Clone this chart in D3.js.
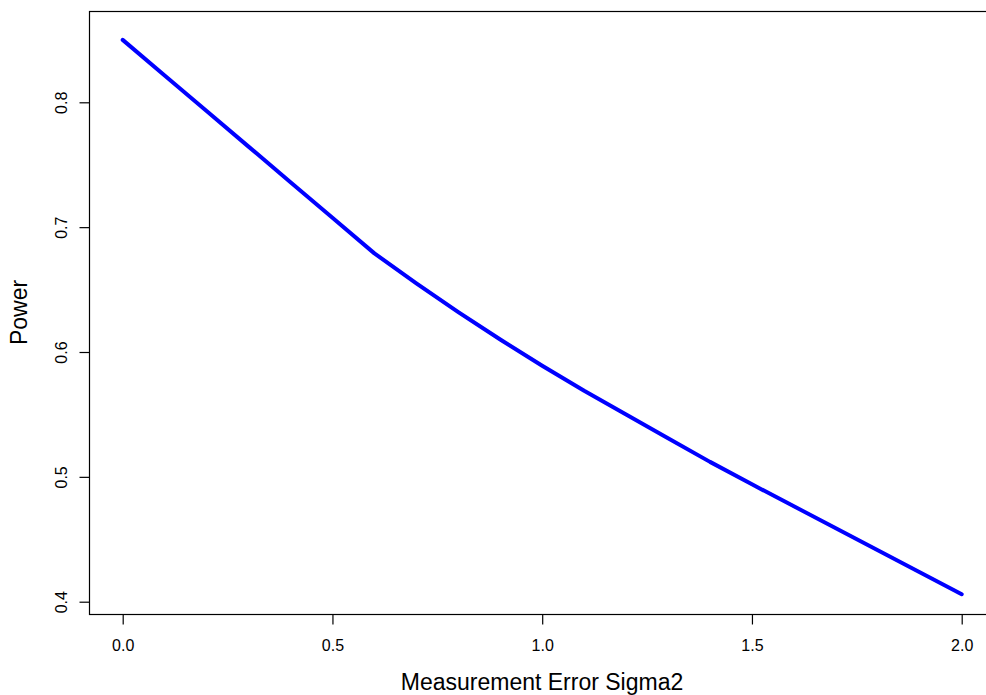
<!DOCTYPE html>
<html>
 <head>
    <style>
        body { margin: 0; background: #fff; }
        svg { display: block; }
        text { font-family: "Liberation Sans", Arial, Helvetica, sans-serif; fill: #000; }
    </style>
    <script src="https://d3js.org/d3.v7.min.js"></script>
 </head>
 <body>
    <div id="chart"></div>
    <script type="text/javascript">
        // measurement error levels and the power at each one
        const sigma2 = [0.0, 0.1, 0.2, 0.3, 0.4, 0.5, 0.6, 0.7, 0.8, 0.9, 1.0,
                        1.1, 1.2, 1.3, 1.4, 1.5, 1.6, 1.7, 1.8, 1.9, 2.0];
        const power = [0.850, 0.8215, 0.793, 0.7645, 0.736, 0.7075, 0.679, 0.655, 0.632, 0.610, 0.589,
                       0.569, 0.550, 0.531, 0.512, 0.494, 0.4764, 0.4588, 0.4412, 0.4236, 0.406];
        const xTicks = [0.0, 0.5, 1.0, 1.5, 2.0];
        const yTicks = [0.4, 0.5, 0.6, 0.7, 0.8];

        const W = 986, H = 695;
        // plot region (right edge sits past the window, as in the original)
        const box = {left: 89, top: 11, right: 995, bottom: 614};

        const x = d3.scaleLinear().domain([0, 2]).range([122.7, 961.7]);
        const y = d3.scaleLinear().domain([0.4, 0.8]).range([601.7, 102.3]);

        const svg = d3.select("#chart").append("svg")
            .attr("width", W)
            .attr("height", H);

        // box
        svg.append("rect")
            .attr("x", box.left + 0.5)
            .attr("y", box.top + 0.5)
            .attr("width", box.right - box.left)
            .attr("height", box.bottom - box.top)
            .attr("fill", "none")
            .attr("stroke", "#000")
            .attr("stroke-width", 1.2);

        // x axis
        const xAxis = d3.axisBottom(x)
            .tickValues(xTicks)
            .tickSize(10)
            .tickPadding(15)
            .tickFormat(d3.format(".1f"));
        const gx = svg.append("g")
            .attr("transform", "translate(0," + (box.bottom + 0.5) + ")")
            .call(xAxis);
        gx.select(".domain").remove();
        gx.selectAll("line").attr("stroke", "#000").attr("stroke-width", 1.2);
        gx.selectAll("text")
            .style("font-size", "16px")
            .style("font-family", "Liberation Sans, Arial, sans-serif");

        // y axis, labels turned like R's default
        const yAxis = d3.axisLeft(y)
            .tickValues(yTicks)
            .tickSize(10)
            .tickFormat(d3.format(".1f"));
        const gy = svg.append("g")
            .attr("transform", "translate(" + (box.left + 0.5) + ",0)")
            .call(yAxis);
        gy.select(".domain").remove();
        gy.selectAll("line").attr("stroke", "#000").attr("stroke-width", 1.2);
        gy.selectAll("text")
            .attr("x", null)
            .attr("dy", null)
            .attr("transform", "translate(-23,0) rotate(-90)")
            .attr("text-anchor", "middle")
            .style("font-size", "16px")
            .style("font-family", "Liberation Sans, Arial, sans-serif");

        // the curve
        const line = d3.line()
            .x((d, i) => x(sigma2[i]))
            .y(d => y(d));
        svg.append("path")
            .datum(power)
            .attr("d", line)
            .attr("fill", "none")
            .attr("stroke", "#0000ff")
            .attr("stroke-width", 4)
            .attr("stroke-linejoin", "round")
            .attr("stroke-linecap", "round");

        // axis titles
        svg.append("text")
            .attr("x", (box.left + box.right) / 2)
            .attr("y", 689.5)
            .attr("text-anchor", "middle")
            .style("font-size", "23px")
            .text("Measurement Error Sigma2");

        svg.append("text")
            .attr("transform", "translate(26.5," + (box.top + box.bottom) / 2 + ") rotate(-90)")
            .attr("text-anchor", "middle")
            .style("font-size", "23px")
            .text("Power");
    </script>
 </body>
</html>
